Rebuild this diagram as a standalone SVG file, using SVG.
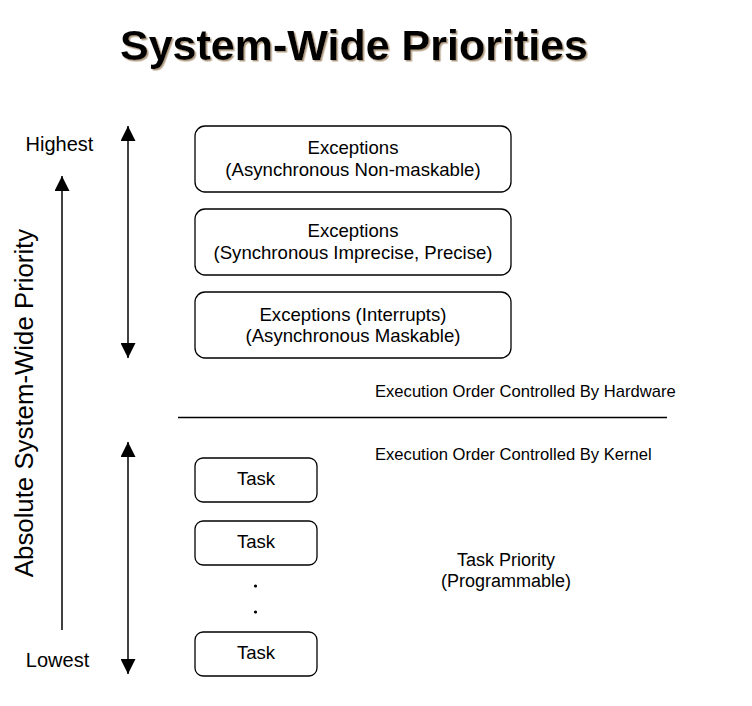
<svg xmlns="http://www.w3.org/2000/svg" width="752" height="706" viewBox="0 0 752 706">
<style>
text{font-family:"Liberation Sans",Arial,sans-serif;fill:#000}
.t{font-size:43px;font-weight:bold;text-anchor:middle}
.b{font-size:18.6px;text-anchor:middle}
.s{font-size:16.6px}
.box{fill:#fff;stroke:#000;stroke-width:1.3}
.ln{stroke:#000;stroke-width:1.5;fill:none}
</style>
<defs>
<marker id="ah" viewBox="0 0 15 15" refX="15" refY="7.5" markerWidth="15" markerHeight="15" markerUnits="userSpaceOnUse" orient="auto-start-reverse">
<path d="M0,0 L15,7.5 L0,15 Z" fill="#000"/>
</marker>
<filter id="sh" x="-5%" y="-20%" width="110%" height="140%">
<feDropShadow dx="1.5" dy="1.5" stdDeviation="0.6" flood-color="#9a8060" flood-opacity="0.8"/>
</filter>
</defs>
<rect width="752" height="706" fill="#fff"/>
<text class="t" x="354" y="60" filter="url(#sh)">System-Wide Priorities</text>

<g id="labels">
<text class="b" x="59.5" y="151" style="font-size:20px">Highest</text>
<text class="b" x="57.5" y="667" style="font-size:20px">Lowest</text>
<text class="b" transform="translate(33,403) rotate(-90)" style="font-size:25.8px">Absolute System-Wide Priority</text>
<text class="s" x="375" y="397">Execution Order Controlled By Hardware</text>
<text class="s" x="375" y="460">Execution Order Controlled By Kernel</text>
<text class="b" x="506" y="566" style="font-size:18px">Task Priority</text>
<text class="b" x="506" y="587" style="font-size:18px">(Programmable)</text>
</g>

<g id="connectors">
<line class="ln" x1="62" y1="630" x2="62" y2="176" marker-end="url(#ah)"/>
<line class="ln" x1="128" y1="126" x2="128" y2="358" marker-start="url(#ah)" marker-end="url(#ah)"/>
<line class="ln" x1="128" y1="442" x2="128" y2="674" marker-start="url(#ah)" marker-end="url(#ah)"/>
<line x1="178" y1="417.5" x2="667" y2="417.5" stroke="#000" stroke-width="1.3"/>
</g>

<g id="exc1">
<rect class="box" x="195" y="126" width="316" height="66" rx="10"/>
<text class="b" x="353" y="154">Exceptions</text>
<text class="b" x="353" y="176">(Asynchronous Non-maskable)</text>
</g>
<g id="exc2">
<rect class="box" x="195" y="209" width="316" height="66" rx="10"/>
<text class="b" x="353" y="237">Exceptions</text>
<text class="b" x="353" y="259">(Synchronous Imprecise, Precise)</text>
</g>
<g id="exc3">
<rect class="box" x="195" y="292" width="316" height="66" rx="10"/>
<text class="b" x="353" y="321">Exceptions (Interrupts)</text>
<text class="b" x="353" y="342">(Asynchronous Maskable)</text>
</g>

<g id="task1">
<rect class="box" x="195" y="458" width="122" height="44" rx="8"/>
<text class="b" x="256" y="485">Task</text>
</g>
<g id="task2">
<rect class="box" x="195" y="521" width="122" height="44" rx="8"/>
<text class="b" x="256" y="548">Task</text>
</g>
<g id="dots">
<circle cx="255.5" cy="586" r="1.6" fill="#000"/>
<circle cx="255.5" cy="612" r="1.6" fill="#000"/>
</g>
<g id="task3">
<rect class="box" x="195" y="632" width="122" height="44" rx="8"/>
<text class="b" x="256" y="659">Task</text>
</g>
</svg>
